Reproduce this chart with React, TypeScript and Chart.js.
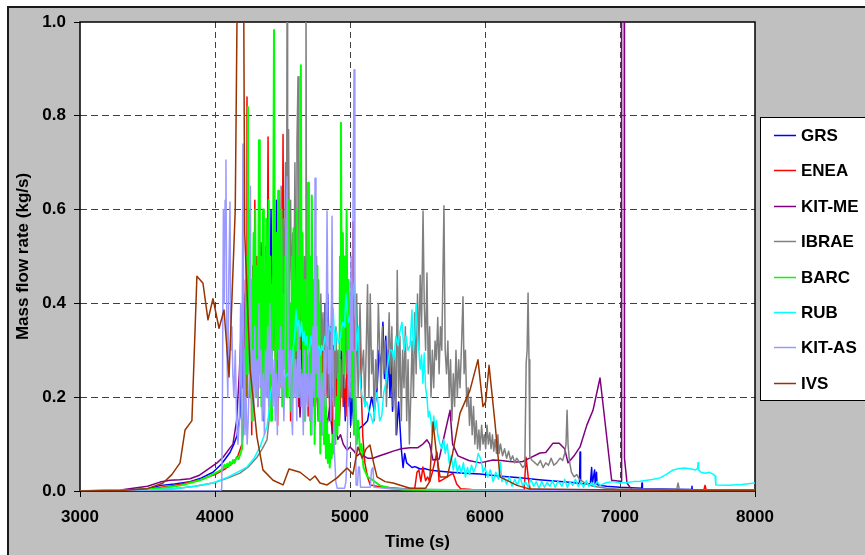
import React, { useEffect, useRef } from "react";
import { Chart, registerables } from "chart.js";
Chart.register(...registerables);

type P = [number, number];

const SERIES_NAMES = ["GRS", "ENEA", "KIT-ME", "IBRAE", "BARC", "RUB", "KIT-AS", "IVS"];
const SERIES_COLORS = ["#0000FF", "#FF0000", "#800080", "#808080", "#00FF00", "#00FFFF", "#9999FF", "#993300"];
const X_TICKS = [3000, 4000, 5000, 6000, 7000, 8000];
const Y_TICKS = [0, 0.2, 0.4, 0.6, 0.8, 1.0];
const X_TITLE = "Time (s)";
const Y_TITLE = "Mass flow rate (kg/s)";

const GRS: P[] = [
  [3000, 0], [3300, 0.001], [3500, 0.005], [3600, 0.012], [3700, 0.015], [3815, 0.02], [3900, 0.028], [3985, 0.04], [4050, 0.058], [4111, 0.082], [4140, 0.1], [4163, 0.118], [4185, 0.16],
  [4195, 0.28], [4205, 0.22], [4215, 0.38], [4225, 0.3], [4235, 0.45], [4245, 0.27], [4255, 0.5], [4265, 0.33], [4275, 0.42], [4285, 0.25], [4295, 0.55], [4305, 0.36], [4315, 0.48], [4325, 0.3], [4335, 0.44], [4345, 0.28], [4355, 0.4], [4365, 0.26], [4375, 0.52], [4385, 0.34], [4395, 0.46], [4405, 0.3], [4415, 0.6], [4425, 0.38], [4435, 0.5], [4445, 0.32], [4455, 0.62], [4465, 0.4], [4475, 0.48], [4485, 0.29], [4495, 0.42], [4505, 0.26], [4515, 0.38], [4525, 0.3], [4535, 0.45], [4545, 0.27], [4555, 0.4], [4565, 0.24], [4575, 0.36], [4585, 0.28], [4595, 0.44], [4605, 0.3], [4615, 0.38], [4625, 0.22], [4635, 0.35], [4645, 0.26], [4655, 0.42], [4665, 0.3], [4675, 0.37], [4685, 0.24], [4695, 0.4], [4705, 0.29], [4715, 0.35], [4725, 0.22], [4735, 0.33], [4745, 0.27], [4755, 0.41], [4765, 0.3], [4775, 0.36], [4785, 0.21], [4795, 0.34], [4805, 0.25], [4815, 0.4], [4825, 0.28], [4835, 0.42], [4845, 0.3], [4855, 0.35], [4865, 0.2], [4875, 0.31], [4885, 0.24], [4895, 0.3], [4905, 0.18], [4915, 0.28], [4925, 0.22], [4935, 0.3], [4945, 0.2], [4955, 0.26], [4965, 0.15], [4975, 0.24], [4985, 0.18], [4995, 0.25], [5005, 0.14], [5015, 0.2],
  [5030, 0.13], [5050, 0.124], [5074, 0.135], [5100, 0.14], [5130, 0.15], [5160, 0.2], [5180, 0.17], [5200, 0.215], [5215, 0.3], [5230, 0.26], [5244, 0.36], [5255, 0.24], [5265, 0.33], [5275, 0.22], [5285, 0.3], [5296, 0.2], [5305, 0.28], [5315, 0.17], [5330, 0.24], [5345, 0.12], [5360, 0.19], [5380, 0.09], [5393, 0.05], [5405, 0.08], [5420, 0.06], [5440, 0.055], [5460, 0.05], [5480, 0.052], [5496, 0.05], [5520, 0.047], [5550, 0.048], [5600, 0.044], [5667, 0.042], [5750, 0.04], [5850, 0.038], [5963, 0.036], [6100, 0.032], [6259, 0.028], [6400, 0.024], [6556, 0.02], [6650, 0.018], [6700, 0.016], [6704, 0.083], [6708, 0.016], [6780, 0.015], [6790, 0.05], [6795, 0.015], [6812, 0.045], [6816, 0.015], [6826, 0.04], [6830, 0.014], [6850, 0.012], [6900, 0.01], [7000, 0.008], [7160, 0.006], [7163, 0.017], [7166, 0.005], [7300, 0.004], [7530, 0.003], [7533, 0.01], [7536, 0.003], [8000, 0.002],
];

const ENEA: P[] = [
  [3000, 0], [3300, 0.001], [3500, 0.004], [3600, 0.008], [3700, 0.012], [3800, 0.018], [3900, 0.025], [4000, 0.035], [4080, 0.048], [4133, 0.06], [4170, 0.075], [4200, 0.1], [4215, 0.18], [4225, 0.45], [4232, 0.2], [4237, 0.84], [4243, 0.3], [4250, 0.55], [4258, 0.2], [4265, 0.4], [4272, 0.12], [4280, 0.48], [4288, 0.25], [4295, 0.62], [4302, 0.3], [4310, 0.5], [4318, 0.18], [4326, 0.35], [4334, 0.5], [4342, 0.22], [4350, 0.42], [4358, 0.15], [4366, 0.3], [4374, 0.45], [4382, 0.2], [4393, 0.755], [4400, 0.35], [4408, 0.5], [4416, 0.25], [4424, 0.46], [4432, 0.3], [4440, 0.55], [4448, 0.24], [4456, 0.4], [4464, 0.14], [4472, 0.36], [4480, 0.22], [4488, 0.48], [4496, 0.3], [4504, 0.76], [4512, 0.32], [4520, 0.5], [4528, 0.2], [4536, 0.42], [4544, 0.27], [4552, 0.38], [4560, 0.15], [4570, 0.32], [4580, 0.22], [4590, 0.4], [4600, 0.26], [4610, 0.35], [4620, 0.18], [4630, 0.3], [4640, 0.42], [4650, 0.2], [4660, 0.36], [4670, 0.24], [4680, 0.33], [4690, 0.16], [4700, 0.28], [4710, 0.38], [4720, 0.2], [4730, 0.3], [4740, 0.14], [4750, 0.26], [4760, 0.35], [4770, 0.18], [4780, 0.3], [4790, 0.22], [4800, 0.34], [4810, 0.16], [4820, 0.28], [4830, 0.2], [4840, 0.32], [4850, 0.15], [4860, 0.24], [4870, 0.12], [4880, 0.22], [4890, 0.3], [4900, 0.18], [4910, 0.26], [4920, 0.14], [4930, 0.2], [4940, 0.28], [4950, 0.18], [4960, 0.24], [4970, 0.16], [4980, 0.3], [4990, 0.2], [5000, 0.35], [5010, 0.25], [5022, 0.574], [5030, 0.3], [5045, 0.4], [5060, 0.28], [5074, 0.33], [5085, 0.2], [5095, 0.115], [5110, 0.06], [5130, 0.03], [5150, 0.013], [5200, 0.01], [5300, 0.007], [5400, 0.005], [5480, 0.006], [5496, 0.04], [5510, 0.045], [5525, 0.02], [5540, 0.051], [5560, 0.022], [5575, 0.03], [5590, 0.02], [5610, 0.04], [5644, 0.083], [5660, 0.02], [5690, 0.025], [5720, 0.03], [5763, 0.038], [5790, 0.015], [5820, 0.005], [5900, 0.003], [6000, 0.002], [6290, 0.002], [6304, 0.072], [6320, 0.03], [6335, 0.002], [7000, 0.001], [7620, 0.001], [7630, 0.012], [7640, 0.001], [8000, 0],
];

const KIT_ME: P[] = [
  [3000, 0], [3300, 0.002], [3500, 0.01], [3593, 0.019], [3667, 0.023], [3740, 0.024], [3815, 0.026], [3880, 0.033], [3941, 0.045], [4015, 0.06], [4060, 0.072], [4111, 0.092], [4133, 0.1], [4160, 0.15], [4180, 0.25],
  [4195, 0.35], [4210, 0.28], [4225, 0.42], [4240, 0.3], [4255, 0.45], [4270, 0.33], [4285, 0.4], [4300, 0.3], [4315, 0.48], [4330, 0.35], [4340, 0.53], [4355, 0.38], [4370, 0.45], [4385, 0.32], [4400, 0.42], [4415, 0.3], [4430, 0.45], [4445, 0.33], [4460, 0.4], [4475, 0.3], [4490, 0.5], [4505, 0.35], [4520, 0.42], [4535, 0.3], [4550, 0.38], [4565, 0.25], [4580, 0.35], [4595, 0.22], [4610, 0.3], [4630, 0.158], [4645, 0.25], [4660, 0.3], [4675, 0.22], [4690, 0.28], [4705, 0.2], [4720, 0.26], [4735, 0.18], [4750, 0.24], [4765, 0.15], [4778, 0.24], [4790, 0.13], [4800, 0.2], [4815, 0.16], [4830, 0.14], [4850, 0.18], [4870, 0.12], [4890, 0.15], [4910, 0.11], [4930, 0.12], [4950, 0.1], [4978, 0.087],
  [5000, 0.094], [5030, 0.085], [5052, 0.075], [5074, 0.08], [5100, 0.075], [5130, 0.07], [5170, 0.07], [5220, 0.075], [5270, 0.08], [5320, 0.085], [5380, 0.09], [5444, 0.092], [5500, 0.092], [5540, 0.1], [5570, 0.109], [5590, 0.1], [5615, 0.066], [5660, 0.068], [5700, 0.12], [5741, 0.172], [5760, 0.1], [5800, 0.075], [5880, 0.065], [5963, 0.06], [6059, 0.066], [6120, 0.065], [6180, 0.063], [6237, 0.062], [6280, 0.063], [6330, 0.07], [6407, 0.081], [6450, 0.082], [6504, 0.102], [6550, 0.102], [6590, 0.09], [6615, 0.06], [6660, 0.075], [6704, 0.094], [6755, 0.141], [6800, 0.172], [6852, 0.241], [6880, 0.17], [6938, 0.023], [7000, 0.021], [7008, 0.021], [7012, 1.1], [7031, 1.1], [7033, 0.07], [7052, 0.017], [7089, 0.002], [8000, 0],
];

const IBRAE: P[] = [
  [3000, 0], [3500, 0.002], [3700, 0.005], [3850, 0.01], [3985, 0.017], [4100, 0.028], [4185, 0.038], [4250, 0.052], [4311, 0.072], [4350, 0.09], [4385, 0.109], [4400, 0.15], [4410, 0.3], [4418, 0.2], [4426, 0.45], [4434, 0.3], [4442, 0.55], [4450, 0.35], [4458, 0.5], [4466, 0.28], [4474, 0.6], [4482, 0.4], [4490, 0.65], [4498, 0.35], [4506, 0.58], [4514, 0.4], [4522, 0.7], [4530, 0.45], [4534, 1.1], [4538, 0.5], [4545, 0.77], [4552, 0.45], [4560, 0.62], [4568, 0.38], [4576, 0.55], [4584, 0.4], [4592, 0.7], [4600, 0.42], [4607, 0.74], [4615, 0.883], [4622, 0.5], [4630, 0.6], [4638, 0.4], [4646, 0.55], [4654, 0.35], [4662, 0.5], [4670, 0.4], [4674, 1.1], [4678, 0.45], [4688, 0.55], [4696, 0.3], [4704, 0.5], [4712, 0.35], [4720, 0.45], [4728, 0.28], [4736, 0.4], [4744, 0.3], [4752, 0.5], [4760, 0.32], [4768, 0.45], [4776, 0.25], [4784, 0.42], [4792, 0.3], [4800, 0.38], [4808, 0.22], [4816, 0.4], [4824, 0.28], [4832, 0.36], [4840, 0.2], [4848, 0.34], [4856, 0.25], [4864, 0.4], [4872, 0.22], [4880, 0.3], [4888, 0.18], [4896, 0.35], [4904, 0.24], [4912, 0.3], [4920, 0.16], [4930, 0.28], [4940, 0.2], [4950, 0.32], [4960, 0.22], [4970, 0.38], [4980, 0.25], [4990, 0.42], [5000, 0.28], [5010, 0.36], [5020, 0.22], [5030, 0.3], [5040, 0.18], [5050, 0.42], [5060, 0.2], [5074, 0.4], [5085, 0.25], [5100, 0.3], [5110, 0.18], [5120, 0.3], [5130, 0.44], [5140, 0.2], [5150, 0.42], [5160, 0.25], [5170, 0.3], [5180, 0.15], [5190, 0.28], [5200, 0.22], [5210, 0.4], [5220, 0.3], [5230, 0.2], [5240, 0.35], [5250, 0.25], [5260, 0.32], [5270, 0.18], [5280, 0.28], [5290, 0.38], [5300, 0.25], [5310, 0.35], [5320, 0.18], [5330, 0.3], [5340, 0.12], [5350, 0.47], [5360, 0.2], [5370, 0.33], [5380, 0.15], [5390, 0.3], [5400, 0.22], [5410, 0.35], [5420, 0.15], [5430, 0.28], [5440, 0.1], [5450, 0.2], [5460, 0.32], [5470, 0.2], [5480, 0.38], [5490, 0.25], [5500, 0.42], [5510, 0.3], [5520, 0.46], [5530, 0.35], [5541, 0.597], [5550, 0.4], [5560, 0.3], [5570, 0.465], [5580, 0.25], [5590, 0.35], [5600, 0.2], [5610, 0.3], [5620, 0.22], [5630, 0.32], [5640, 0.28], [5650, 0.37], [5660, 0.25], [5670, 0.35], [5680, 0.3], [5696, 0.608], [5705, 0.3], [5715, 0.25], [5725, 0.32], [5735, 0.2], [5745, 0.28], [5755, 0.15], [5765, 0.25], [5775, 0.18], [5785, 0.3], [5795, 0.2], [5805, 0.28], [5815, 0.22], [5825, 0.3], [5837, 0.414], [5845, 0.25], [5855, 0.3], [5865, 0.18], [5875, 0.22], [5885, 0.14], [5895, 0.2], [5905, 0.12], [5915, 0.18], [5925, 0.1], [5935, 0.15], [5945, 0.09], [5955, 0.13], [5963, 0.087], [5975, 0.14], [5985, 0.1], [5995, 0.12], [6005, 0.09], [6015, 0.14], [6025, 0.1], [6035, 0.124], [6045, 0.09], [6055, 0.12], [6065, 0.085], [6075, 0.11], [6085, 0.08], [6095, 0.12], [6105, 0.08], [6115, 0.1], [6130, 0.075], [6145, 0.09], [6160, 0.07], [6175, 0.085], [6190, 0.065], [6205, 0.075], [6220, 0.06], [6235, 0.07], [6259, 0.06], [6280, 0.05], [6295, 0.055], [6305, 0.273], [6312, 0.3], [6319, 0.422], [6326, 0.28], [6332, 0.072], [6350, 0.065], [6370, 0.06], [6390, 0.055], [6410, 0.065], [6430, 0.05], [6450, 0.06], [6470, 0.055], [6490, 0.07], [6510, 0.055], [6530, 0.06], [6556, 0.07], [6575, 0.065], [6590, 0.08], [6600, 0.1], [6608, 0.172], [6615, 0.1], [6625, 0.065], [6640, 0.04], [6660, 0.03], [6680, 0.035], [6700, 0.025], [6750, 0.015], [6800, 0.01], [6900, 0.006], [7000, 0.004], [7420, 0.003], [7430, 0.017], [7440, 0.003], [8000, 0.002],
];

const BARC: P[] = [
  [3000, 0], [3400, 0.002], [3600, 0.006], [3750, 0.012], [3889, 0.023], [3950, 0.03], [4015, 0.04], [4060, 0.048], [4070, 0.056], [4080, 0.05], [4090, 0.058], [4100, 0.052], [4110, 0.062], [4120, 0.056], [4133, 0.066], [4145, 0.06], [4160, 0.072], [4175, 0.068], [4190, 0.081], [4200, 0.09], [4210, 0.14], [4218, 0.3], [4225, 0.2], [4232, 0.5], [4238, 0.25], [4244, 0.819], [4250, 0.35], [4256, 0.6], [4262, 0.2], [4268, 0.45], [4274, 0.15], [4280, 0.38], [4286, 0.55], [4292, 0.25], [4298, 0.6], [4304, 0.2], [4310, 0.48], [4318, 0.3], [4326, 0.748], [4332, 0.25], [4338, 0.5], [4344, 0.18], [4350, 0.42], [4356, 0.6], [4362, 0.22], [4368, 0.46], [4374, 0.3], [4380, 0.58], [4386, 0.2], [4392, 0.4], [4398, 0.62], [4404, 0.28], [4410, 0.5], [4416, 0.15], [4422, 0.44], [4428, 0.3], [4437, 0.983], [4444, 0.4], [4450, 0.2], [4456, 0.55], [4462, 0.3], [4468, 0.64], [4474, 0.22], [4480, 0.5], [4486, 0.35], [4492, 0.6], [4498, 0.18], [4504, 0.42], [4510, 0.26], [4516, 0.5], [4522, 0.3], [4528, 0.58], [4534, 0.2], [4540, 0.45], [4546, 0.62], [4552, 0.25], [4558, 0.4], [4564, 0.17], [4570, 0.5], [4576, 0.3], [4582, 0.56], [4588, 0.22], [4594, 0.44], [4600, 0.3], [4606, 0.6], [4612, 0.28], [4618, 0.5], [4624, 0.2], [4630, 0.7], [4636, 0.908], [4642, 0.35], [4648, 0.55], [4654, 0.2], [4660, 0.45], [4666, 0.15], [4672, 0.4], [4680, 0.25], [4689, 0.657], [4696, 0.3], [4703, 0.5], [4710, 0.12], [4717, 0.63], [4724, 0.3], [4731, 0.45], [4738, 0.1], [4745, 0.35], [4752, 0.2], [4759, 0.48], [4766, 0.15], [4773, 0.4], [4780, 0.08], [4787, 0.3], [4794, 0.12], [4801, 0.25], [4808, 0.1], [4815, 0.2], [4822, 0.07], [4829, 0.15], [4836, 0.06], [4843, 0.12], [4850, 0.05], [4857, 0.1], [4864, 0.07], [4871, 0.12], [4878, 0.08], [4885, 0.15], [4892, 0.1], [4899, 0.2], [4906, 0.12], [4913, 0.25], [4920, 0.14], [4926, 0.5], [4933, 0.785], [4940, 0.3], [4947, 0.55], [4954, 0.25], [4961, 0.5], [4968, 0.35], [4975, 0.6], [4982, 0.3], [4990, 0.45], [4998, 0.25], [5006, 0.4], [5014, 0.2], [5022, 0.3], [5030, 0.12], [5040, 0.2], [5050, 0.1], [5060, 0.15], [5074, 0.087], [5085, 0.1], [5100, 0.05], [5130, 0.03], [5170, 0.023], [5220, 0.012], [5300, 0.006], [5400, 0.003], [6000, 0.001], [8000, 0],
];

const RUB: P[] = [
  [3000, 0], [3500, 0.002], [3700, 0.005], [3850, 0.01], [3985, 0.017], [4100, 0.03], [4237, 0.051], [4290, 0.07], [4333, 0.094], [4360, 0.115], [4385, 0.137], [4400, 0.17], [4410, 0.209], [4420, 0.22], [4440, 0.232], [4460, 0.228], [4481, 0.232], [4500, 0.24], [4520, 0.243], [4540, 0.25], [4560, 0.245], [4578, 0.3], [4590, 0.33], [4600, 0.386], [4610, 0.34], [4620, 0.364], [4630, 0.33], [4640, 0.36], [4650, 0.32], [4660, 0.34], [4670, 0.31], [4680, 0.33], [4690, 0.29], [4700, 0.3], [4710, 0.33], [4720, 0.31], [4730, 0.343], [4740, 0.32], [4750, 0.3], [4760, 0.28], [4770, 0.31], [4780, 0.29], [4790, 0.31], [4800, 0.3], [4815, 0.33], [4830, 0.31], [4845, 0.35], [4860, 0.34], [4875, 0.39], [4890, 0.3], [4900, 0.34], [4915, 0.316], [4930, 0.33], [4945, 0.36], [4960, 0.35], [4970, 0.42], [4980, 0.38], [4990, 0.36], [5000, 0.37], [5015, 0.4], [5030, 0.443], [5040, 0.4], [5047, 0.3], [5055, 0.33], [5063, 0.35], [5070, 0.26], [5080, 0.22], [5090, 0.2], [5100, 0.2], [5110, 0.18], [5125, 0.19], [5140, 0.17], [5155, 0.16], [5170, 0.145], [5180, 0.16], [5190, 0.2], [5200, 0.21], [5210, 0.18], [5220, 0.15], [5235, 0.16], [5250, 0.21], [5265, 0.23], [5280, 0.27], [5295, 0.3], [5310, 0.3], [5325, 0.28], [5340, 0.33], [5355, 0.31], [5370, 0.34], [5385, 0.36], [5400, 0.3], [5415, 0.33], [5430, 0.3], [5445, 0.31], [5459, 0.386], [5470, 0.3], [5480, 0.33], [5490, 0.4], [5500, 0.33], [5510, 0.3], [5520, 0.26], [5530, 0.29], [5540, 0.23], [5550, 0.294], [5560, 0.22], [5570, 0.2], [5580, 0.158], [5590, 0.17], [5600, 0.15], [5610, 0.12], [5620, 0.16], [5630, 0.13], [5640, 0.15], [5650, 0.12], [5665, 0.102], [5680, 0.09], [5695, 0.11], [5705, 0.08], [5720, 0.1], [5735, 0.06], [5750, 0.075], [5765, 0.045], [5780, 0.07], [5795, 0.04], [5810, 0.055], [5825, 0.038], [5840, 0.06], [5855, 0.03], [5870, 0.05], [5885, 0.035], [5900, 0.055], [5915, 0.04], [5930, 0.05], [5950, 0.08], [5963, 0.072], [5975, 0.06], [5985, 0.04], [6000, 0.05], [6020, 0.03], [6040, 0.045], [6060, 0.02], [6080, 0.04], [6100, 0.025], [6115, 0.06], [6125, 0.02], [6140, 0.03], [6160, 0.015], [6180, 0.03], [6200, 0.01], [6220, 0.025], [6240, 0.012], [6260, 0.03], [6280, 0.01], [6300, 0.02], [6320, 0.008], [6340, 0.025], [6360, 0.01], [6380, 0.02], [6400, 0.006], [6420, 0.02], [6440, 0.008], [6460, 0.018], [6480, 0.01], [6500, 0.022], [6520, 0.008], [6540, 0.02], [6556, 0.017], [6570, 0.01], [6590, 0.025], [6610, 0.008], [6630, 0.02], [6650, 0.012], [6670, 0.025], [6690, 0.01], [6710, 0.02], [6730, 0.008], [6750, 0.022], [6770, 0.01], [6790, 0.018], [6810, 0.01], [6830, 0.02], [6852, 0.012], [6900, 0.018], [6950, 0.02], [7000, 0.017], [7052, 0.018], [7100, 0.02], [7150, 0.021], [7200, 0.023], [7250, 0.025], [7296, 0.028], [7340, 0.035], [7393, 0.045], [7440, 0.048], [7481, 0.049], [7530, 0.047], [7560, 0.045], [7575, 0.048], [7578, 0.06], [7582, 0.045], [7600, 0.04], [7630, 0.038], [7660, 0.04], [7690, 0.036], [7704, 0.032], [7710, 0.013], [7800, 0.012], [7900, 0.014], [8000, 0.017],
];

const KIT_AS: P[] = [
  [3000, 0], [4040, 0], [4050, 0.005], [4055, 0.2], [4062, 0.6], [4068, 0.4], [4075, 0.62], [4081, 0.706], [4088, 0.3], [4095, 0.2], [4102, 0.45], [4111, 0.616], [4118, 0.3], [4125, 0.35], [4132, 0.25], [4140, 0.2], [4150, 0.3], [4160, 0.15], [4170, 0.1], [4180, 0.15], [4190, 0.4], [4198, 0.1], [4207, 0.74],
  [4214, 0.3], [4222, 0.12], [4230, 0.2], [4238, 0.1], [4246, 0.15], [4254, 0.25], [4262, 0.65], [4270, 0.2], [4278, 0.3], [4286, 0.15], [4294, 0.35], [4302, 0.2], [4310, 0.28], [4318, 0.18], [4326, 0.4], [4334, 0.22], [4342, 0.3], [4350, 0.15], [4358, 0.25], [4366, 0.12], [4374, 0.3], [4382, 0.2], [4390, 0.35], [4398, 0.18], [4406, 0.4], [4414, 0.25], [4422, 0.3], [4430, 0.18], [4438, 0.28], [4446, 0.15], [4454, 0.25], [4462, 0.12], [4470, 0.3], [4478, 0.2], [4486, 0.35], [4494, 0.22], [4502, 0.3], [4510, 0.15], [4518, 0.25], [4526, 0.55], [4534, 0.67], [4542, 0.3], [4550, 0.22], [4558, 0.3], [4566, 0.18], [4574, 0.12], [4582, 0.3], [4590, 0.2], [4598, 0.28], [4606, 0.15], [4614, 0.35], [4622, 0.2], [4630, 0.3], [4638, 0.18], [4646, 0.25], [4654, 0.12], [4662, 0.3], [4670, 0.15], [4678, 0.25], [4686, 0.18], [4694, 0.3], [4702, 0.15], [4710, 0.25], [4718, 0.12], [4726, 0.35], [4734, 0.2], [4741, 0.667], [4748, 0.25], [4756, 0.35], [4764, 0.2], [4772, 0.3], [4780, 0.15], [4790, 0.25], [4800, 0.12], [4810, 0.3], [4820, 0.18], [4830, 0.597], [4840, 0.25], [4850, 0.3], [4858, 0.15], [4867, 0.586], [4875, 0.2],
  [4885, 0.08], [4895, 0.02], [4905, 0.006], [4940, 0.006], [4960, 0.006], [4970, 0.02], [4980, 0.1], [4990, 0.3], [5000, 0.2], [5008, 0.5], [5015, 0.3], [5022, 0.6], [5030, 0.898], [5036, 0.5], [5040, 0.2], [5045, 0.013], [5055, 0.012], [5063, 0.051], [5070, 0.051], [5078, 0.008], [5150, 0.008], [5160, 0.045], [5170, 0.05], [5178, 0.008], [5300, 0.005], [5600, 0.003], [6000, 0.002], [7000, 0.001], [8000, 0],
];

const IVS: P[] = [
  [3000, 0], [3300, 0.001], [3500, 0.005], [3615, 0.017], [3680, 0.035], [3741, 0.06], [3778, 0.13], [3829, 0.15], [3866, 0.458], [3911, 0.443], [3948, 0.365], [3985, 0.41], [4030, 0.347], [4067, 0.386], [4104, 0.243], [4150, 0.6], [4166, 1.1], [4212, 1.1], [4220, 0.55], [4260, 0.26], [4311, 0.115], [4355, 0.045], [4430, 0.023], [4504, 0.013], [4548, 0.047], [4630, 0.04], [4704, 0.023], [4741, 0.032], [4778, 0.017], [4830, 0.013], [4904, 0.028], [4978, 0.049], [5022, 0.036], [5059, 0.094], [5090, 0.07], [5120, 0.09], [5148, 0.098], [5175, 0.06], [5200, 0.03], [5260, 0.02], [5319, 0.017], [5444, 0.006], [5560, 0.006], [5590, 0.02], [5615, 0.147], [5640, 0.08], [5667, 0.03], [5720, 0.03], [5760, 0.08], [5815, 0.166], [5889, 0.215], [5948, 0.28], [5985, 0.18], [6005, 0.19], [6030, 0.268], [6074, 0.145], [6111, 0.03], [6237, 0.012], [6333, 0.004], [7000, 0.002], [8000, 0.001],
];

const SERIES_DATA: P[][] = [GRS, ENEA, KIT_ME, IBRAE, BARC, RUB, KIT_AS, IVS];

const FONT_FAMILY = '"Liberation Sans", Arial, Helvetica, sans-serif';
const W = 865;
const H = 555;

const framePlugin = {
  id: "frame",
  beforeDraw(chart: any) {
    const ctx = chart.ctx;
    const a = chart.chartArea;
    ctx.save();
    ctx.fillStyle = "#ffffff";
    ctx.fillRect(0, 0, W, H);
    ctx.fillStyle = "#c0c0c0";
    ctx.fillRect(8, 7, W - 8, H - 7);
    ctx.strokeStyle = "#1a1a1a";
    ctx.lineWidth = 2;
    ctx.beginPath();
    ctx.moveTo(8, H);
    ctx.lineTo(8, 7);
    ctx.lineTo(W, 7);
    ctx.stroke();
    ctx.fillStyle = "#ffffff";
    ctx.fillRect(a.left, a.top, a.right - a.left, a.bottom - a.top);
    ctx.restore();
  },
  beforeDatasetsDraw(chart: any) {
    const ctx = chart.ctx;
    const a = chart.chartArea;
    ctx.save();
    ctx.strokeStyle = "#000000";
    ctx.lineWidth = 1.5;
    ctx.strokeRect(a.left, a.top, a.right - a.left, a.bottom - a.top);
    ctx.restore();
  },
  afterDraw(chart: any) {
    const ctx = chart.ctx;
    ctx.save();
    const bx = 760.5, by = 117.5;
    ctx.fillStyle = "#ffffff";
    ctx.fillRect(bx, by, 110, 283);
    ctx.strokeStyle = "#000000";
    ctx.lineWidth = 1;
    ctx.strokeRect(bx, by, 110, 283);
    ctx.font = `bold 17px ${FONT_FAMILY}`;
    ctx.textBaseline = "middle";
    ctx.textAlign = "left";
    chart.data.datasets.forEach((ds: any, i: number) => {
      const y = Math.round(135 + i * 35.4) + 0.5;
      ctx.strokeStyle = ds.borderColor;
      ctx.lineWidth = 1.5;
      ctx.beginPath();
      ctx.moveTo(774, y);
      ctx.lineTo(796, y);
      ctx.stroke();
      ctx.fillStyle = "#000000";
      ctx.fillText(ds.label, 801, y + 1);
    });
    ctx.restore();
  },
};

export default function App() {
  const ref = useRef<HTMLCanvasElement | null>(null);
  useEffect(() => {
    if (!ref.current) return;
    const N = SERIES_NAMES.length;
    const tickFont = { family: FONT_FAMILY, size: 17, weight: "bold" as const };
    const chart = new Chart(ref.current, {
      type: "line",
      data: {
        datasets: SERIES_NAMES.map((name, i) => ({
          label: name,
          data: SERIES_DATA[i] as any,
          borderColor: SERIES_COLORS[i],
          backgroundColor: SERIES_COLORS[i],
          borderWidth: name === "BARC" ? 2 : 1.5,
          pointRadius: 0,
          pointHoverRadius: 0,
          tension: 0,
          fill: false,
          borderJoinStyle: "round" as const,
          order: N - 1 - i,
        })),
      },
      options: {
        animation: false,
        responsive: false,
        maintainAspectRatio: false,
        events: [],
        layout: { padding: { left: 0, top: 22, right: 110, bottom: 0 } },
        plugins: { legend: { display: false }, tooltip: { enabled: false } },
        scales: {
          x: {
            type: "linear",
            min: X_TICKS[0],
            max: X_TICKS[X_TICKS.length - 1],
            afterBuildTicks: (s: any) => { s.ticks = X_TICKS.map((v) => ({ value: v })); },
            afterFit: (s: any) => { s.height = 64; },
            ticks: { font: tickFont, color: "#000", padding: 10, maxRotation: 0, callback: (v: any) => String(v) },
            grid: {
              color: (c: any) => (c.tick && (c.tick.value === X_TICKS[0] || c.tick.value === X_TICKS[X_TICKS.length - 1]) ? "rgba(0,0,0,0)" : "#404040"),
              lineWidth: 1,
              tickLength: 6,
              tickColor: "#000",
              tickBorderDash: [],
              tickWidth: 1,
            },
            border: { display: false, dash: [6, 4] },
            title: { display: true, text: X_TITLE, color: "#000", font: tickFont, padding: { top: 0, bottom: 2 } },
          },
          y: {
            type: "linear",
            min: Y_TICKS[0],
            max: Y_TICKS[Y_TICKS.length - 1],
            afterBuildTicks: (s: any) => { s.ticks = Y_TICKS.map((v) => ({ value: v })); },
            afterFit: (s: any) => { s.width = 80; },
            ticks: { font: tickFont, color: "#000", padding: 8, callback: (v: any) => Number(v).toFixed(1) },
            grid: {
              color: (c: any) => (c.tick && (c.tick.value === Y_TICKS[0] || c.tick.value === Y_TICKS[Y_TICKS.length - 1]) ? "rgba(0,0,0,0)" : "#404040"),
              lineWidth: 1,
              tickLength: 6,
              tickColor: "#000",
              tickBorderDash: [],
              tickWidth: 1,
            },
            border: { display: false, dash: [7, 4] },
            title: { display: true, text: Y_TITLE, color: "#000", font: tickFont, padding: { top: 13, bottom: 0 } },
          },
        },
      },
      plugins: [framePlugin],
    });
    return () => chart.destroy();
  }, []);
  return (
    <div style={{ position: "absolute", left: 0, top: 0, width: W, height: H }}>
      <canvas ref={ref} width={W} height={H} style={{ width: W, height: H, display: "block" }} />
    </div>
  );
}
